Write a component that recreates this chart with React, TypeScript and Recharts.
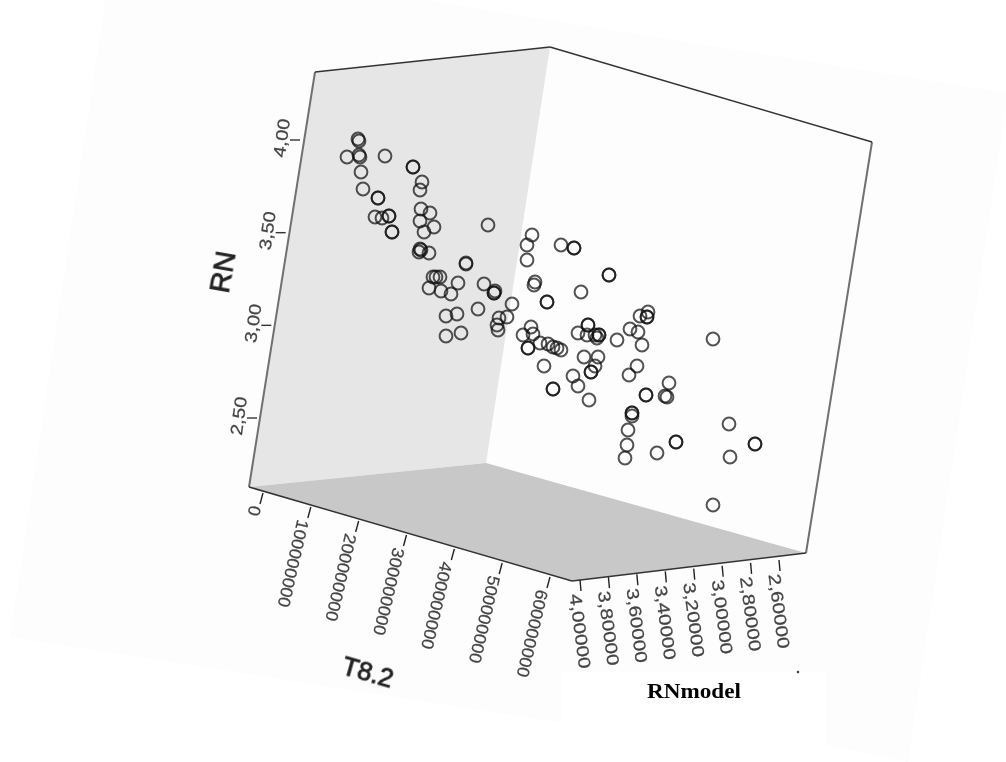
import React from 'react';
import { ScatterChart, Scatter, XAxis, YAxis } from 'recharts';

const WIDTH = 1006;
const HEIGHT = 762;

const pointsX = [
  358, 359, 347, 360, 359, 385, 361, 363, 378, 378, 413, 413, 422, 420, 375, 382, 389, 389, 392, 392,
  421, 430, 420, 434, 424, 488, 420, 419, 421, 429, 466, 466, 433, 440, 436, 458, 429, 441, 451, 484,
  494, 494, 495, 478, 446, 457, 446, 461, 512, 507, 499, 497, 498, 532, 527, 527, 535, 534, 547, 547,
  561, 574, 574, 609, 609, 581, 648, 640, 647, 647, 630, 638, 642, 617, 713, 531, 523, 533, 528, 528,
  540, 548, 553, 561, 557, 578, 588, 588, 587, 595, 599, 599, 597, 584, 598, 595, 591, 591, 544, 553,
  553, 573, 578, 589, 637, 629, 669, 646, 646, 665, 667, 632, 632, 632, 628, 627, 625, 657, 676, 676,
  729, 730, 713, 755, 755,
];
const pointsY = [
  139, 141, 157, 157, 155, 156, 172, 189, 198, 198, 167, 167, 182, 190, 217, 218, 216, 216, 232, 232,
  209, 213, 221, 227, 232, 225, 249, 252, 250, 253, 264, 263, 277, 277, 277, 283, 288, 291, 294, 284,
  293, 293, 291, 309, 316, 314, 336, 333, 304, 317, 318, 325, 330, 235, 245, 260, 282, 285, 302, 302,
  245, 248, 248, 275, 275, 292, 312, 316, 317, 317, 329, 332, 345, 340, 339, 327, 335, 334, 348, 348,
  343, 344, 347, 350, 348, 333, 325, 325, 335, 335, 335, 335, 338, 357, 357, 366, 372, 372, 366, 389,
  389, 376, 386, 400, 366, 375, 383, 395, 395, 396, 397, 413, 413, 416, 430, 445, 458, 453, 442, 442,
  424, 457, 505, 444, 444,
];

const pageCorners = [
  [105, 0], [424, 0], [1008, 93], [908, 762], [826, 745], [826, 672], [562, 672], [562, 723], [10, 637],
];
const leftWall = [[315, 72], [550, 47], [486, 463], [249, 487]];
const floor = [[249, 487], [486, 463], [806, 553], [572, 581]];
const cropSpeck = [[798, 672]];

const darkEdges = [
  [[315, 72], [550, 47]],
  [[550, 47], [872, 142]],
  [[249, 487], [572, 581]],
  [[572, 581], [806, 553]],
];
const greyEdges = [
  [[315, 72], [249, 487]],
  [[872, 142], [806, 553]],
];

const rnTicks = [4.0, 3.5, 3.0, 2.5];
const t82Ticks = [0, 100000000, 200000000, 300000000, 400000000, 500000000, 600000000];
const rnModelTicks = [4.0, 3.8, 3.6, 3.4, 3.2, 3.0, 2.8, 2.6];

const toRows = (pts: number[][]) => pts.map(([x, y]) => ({ x, y }));

// a tick value slides along its box edge between two anchors
const along = (v: number, v0: number, v1: number, a: number[], b: number[], label: string) => {
  const t = (v - v0) / (v1 - v0);
  return { x: a[0] + (b[0] - a[0]) * t, y: a[1] + (b[1] - a[1]) * t, label };
};

const comma = (v: number, digits: number) => v.toFixed(digits).replace('.', ',');

const rnRows = rnTicks.map((v) => along(v, 4, 2.5, [300, 140], [257, 418], comma(v, 2)));
const t82Rows = t82Ticks.map((v) => along(v, 0, 600000000, [263, 493], [550, 577], String(v)));
const rnModelRows = rnModelTicks.map((v) => along(v, 4, 2.6, [580, 580], [779, 560], comma(v, 5)));
const caseRows = pointsX.map((x, i) => ({ x, y: pointsY[i] }));

const SOFT = { filter: 'blur(0.5px)' };
const SANS = '"Liberation Sans", Arial, sans-serif';

const noMark = () => <g />;

const polygonLine = (fill: string) => (props: any) => (
  <polygon points={props.points.map((p: any) => `${p.x},${p.y}`).join(' ')} fill={fill} stroke="none" />
);

const edgeLine = (stroke: string, width: number) => (props: any) => {
  const [a, b] = props.points;
  return <line x1={a.x} y1={a.y} x2={b.x} y2={b.y} stroke={stroke} strokeWidth={width} style={SOFT} />;
};

const CaseMark = (props: any) => (
  <circle cx={props.cx} cy={props.cy} r={6.4} fill="none" stroke="#111" strokeOpacity={0.72} strokeWidth={2} style={SOFT} />
);

const SpeckMark = (props: any) => <circle cx={props.cx} cy={props.cy} r={1.2} fill="#333" />;

const tickText = {
  dominantBaseline: 'central' as const,
  fontFamily: SANS,
  fontSize: 17,
  fill: '#444',
  stroke: '#444',
  strokeWidth: 0.25,
  lengthAdjust: 'spacingAndGlyphs' as const,
};

const RnTick = (props: any) => (
  <g style={SOFT}>
    <line x1={props.cx} y1={props.cy} x2={props.cx - 10} y2={props.cy} stroke="#333" strokeWidth={1.4} />
    <text
      {...tickText}
      transform={`translate(${props.cx - 18},${props.cy - 2}) rotate(-82)`}
      textAnchor="middle"
      textLength={39}
    >
      {props.payload.label}
    </text>
  </g>
);

const T82Tick = (props: any) => (
  <g style={SOFT}>
    <line x1={props.cx} y1={props.cy} x2={props.cx - 3} y2={props.cy + 11} stroke="#222" strokeWidth={1.4} />
    <text
      {...tickText}
      transform={`translate(${props.cx - 8},${props.cy + 13}) rotate(103)`}
      textLength={props.payload.label.length * 9.9}
    >
      {props.payload.label}
    </text>
  </g>
);

const RnModelTick = (props: any) => (
  <g style={SOFT}>
    <line x1={props.cx} y1={props.cy} x2={props.cx + 1} y2={props.cy + 11} stroke="#222" strokeWidth={1.4} />
    <text
      {...tickText}
      transform={`translate(${props.cx - 5},${props.cy + 14}) rotate(82.6)`}
      textLength={75}
    >
      {props.payload.label}
    </text>
  </g>
);

const TitleMark = (props: any) => {
  const { label, rotate, size, length, family, weight, fill, bolden } = props.payload;
  return (
    <text
      transform={`translate(${props.cx},${props.cy}) rotate(${rotate})`}
      textAnchor="middle"
      dominantBaseline="central"
      fontFamily={family}
      fontWeight={weight}
      fontSize={size}
      fill={fill}
      stroke={fill}
      strokeWidth={bolden}
      textLength={length}
      lengthAdjust="spacingAndGlyphs"
      style={SOFT}
    >
      {label}
    </text>
  );
};

const titles = [
  { x: 223, y: 272, label: 'RN', rotate: -80, size: 28, length: 42, family: SANS, weight: 400, fill: '#222', bolden: 0.8 },
  { x: 368, y: 672, label: 'T8.2', rotate: 16, size: 25, length: 52, family: SANS, weight: 400, fill: '#222', bolden: 0.8 },
  { x: 694, y: 691, label: 'RNmodel', rotate: 0, size: 20, length: 94, family: '"Liberation Serif", serif', weight: 700, fill: '#000', bolden: 0 },
];

export default function App() {
  return (
    <div style={{ position: 'absolute', left: 0, top: 0, width: WIDTH, height: HEIGHT, background: '#fff' }}>
      <ScatterChart width={WIDTH} height={HEIGHT} margin={{ top: 0, right: 0, bottom: 0, left: 0 }}>
        <XAxis type="number" dataKey="x" domain={[0, WIDTH]} hide allowDataOverflow />
        <YAxis type="number" dataKey="y" domain={[0, HEIGHT]} reversed hide allowDataOverflow />

        {/* faint rotated page behind the plot, and the two box faces */}
        <Scatter data={toRows(pageCorners)} line={polygonLine('#fdfdfd')} shape={noMark} isAnimationActive={false} />
        <Scatter data={toRows(leftWall)} line={polygonLine('#e6e6e6')} shape={noMark} isAnimationActive={false} />
        <Scatter data={toRows(floor)} line={polygonLine('#c8c8c8')} shape={noMark} isAnimationActive={false} />

        {greyEdges.map((edge, i) => (
          <Scatter key={`grey-${i}`} data={toRows(edge)} line={edgeLine('#707070', 2)} shape={noMark} isAnimationActive={false} />
        ))}
        {darkEdges.map((edge, i) => (
          <Scatter key={`dark-${i}`} data={toRows(edge)} line={edgeLine('#333', 1.5)} shape={noMark} isAnimationActive={false} />
        ))}

        <Scatter data={rnRows} shape={RnTick} isAnimationActive={false} />
        <Scatter data={t82Rows} shape={T82Tick} isAnimationActive={false} />
        <Scatter data={rnModelRows} shape={RnModelTick} isAnimationActive={false} />

        <Scatter data={caseRows} shape={CaseMark} isAnimationActive={false} />
        <Scatter data={toRows(cropSpeck)} shape={SpeckMark} isAnimationActive={false} />
        <Scatter data={titles} shape={TitleMark} isAnimationActive={false} />
      </ScatterChart>
    </div>
  );
}
